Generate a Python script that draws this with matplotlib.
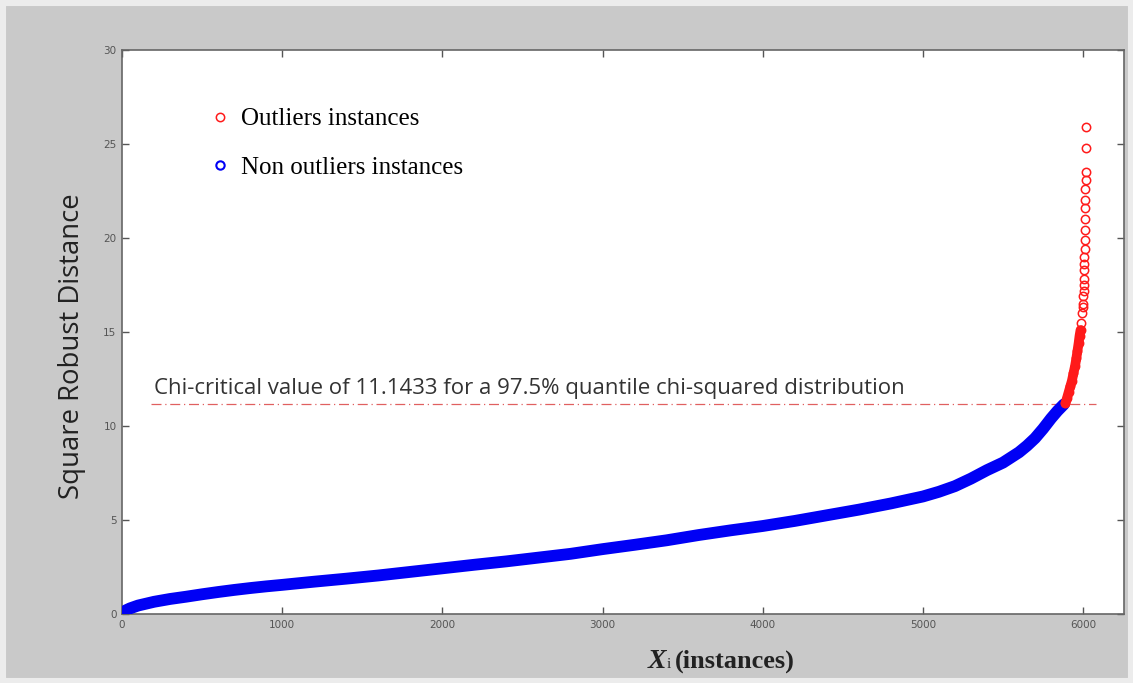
import matplotlib
matplotlib.use("Agg")
import matplotlib.pyplot as plt
from matplotlib.lines import Line2D
from matplotlib.patches import Rectangle

# ---- data ----
inlier_x = [0, 25, 50, 100, 150, 200, 300, 400, 500, 600, 700, 800, 900, 1000,
            1200, 1400, 1600, 1800, 2000, 2200, 2400, 2600, 2800, 3000, 3200,
            3400, 3600, 3800, 4000, 4200, 4400, 4600, 4800, 5000, 5100, 5200,
            5300, 5400, 5500, 5600, 5650, 5700, 5750, 5800, 5840, 5880]
inlier_d = [0.05, 0.2, 0.3, 0.45, 0.55, 0.65, 0.8, 0.92, 1.05, 1.17, 1.28, 1.38,
            1.47, 1.55, 1.72, 1.88, 2.05, 2.24, 2.43, 2.62, 2.8, 3.0, 3.2, 3.45,
            3.68, 3.92, 4.2, 4.45, 4.68, 4.95, 5.25, 5.55, 5.88, 6.25, 6.5, 6.8,
            7.2, 7.65, 8.05, 8.6, 8.95, 9.35, 9.85, 10.4, 10.8, 11.15]

outlier_dense_x = [5890, 5900, 5910, 5920, 5930, 5940, 5950, 5958, 5965, 5972,
                   5978, 5984, 5990, 5995]
outlier_dense_d = [11.2, 11.5, 11.8, 12.1, 12.4, 12.8, 13.2, 13.6, 14.0, 14.4,
                   14.8, 15.1, 15.5, 16.0]
outlier_top_x = [6000, 6001, 6002, 6003, 6004, 6005, 6006, 6007, 6008, 6009,
                 6010, 6011, 6012, 6013, 6014, 6015, 6016, 6017, 6018, 6019]
outlier_top_d = [16.3, 16.5, 16.9, 17.2, 17.5, 17.8, 18.3, 18.6, 19.0, 19.4,
                 19.9, 20.4, 21.0, 21.6, 22.0, 22.6, 23.1, 23.5, 24.8, 25.9]

chi_critical = 11.1433
x_ticks = [0, 1000, 2000, 3000, 4000, 5000, 6000]
y_ticks = [0, 5, 10, 15, 20, 25, 30]

# ---- figure ----
fig = plt.figure(figsize=(11.33, 6.83), dpi=100, facecolor="#c9c9c9")
fig.patches.append(Rectangle((0, 0), 1, 1, transform=fig.transFigure,
                             fill=False, edgecolor="#ececec", linewidth=8,
                             zorder=-1))
ax = fig.add_axes([0.1077, 0.101, 0.8843, 0.826])
ax.set_facecolor("white")

blue = "#0000f5"
red = "#ff1a1a"

# inliers: thick band of overlapping circles
ax.plot(inlier_x, inlier_d, color=blue, lw=8.5, solid_capstyle="round",
        solid_joinstyle="round", zorder=3)

# outliers
ax.plot(outlier_dense_x[:12], outlier_dense_d[:12], color=red, lw=7,
        solid_capstyle="round", zorder=3)
ax.plot(outlier_dense_x + outlier_top_x, outlier_dense_d + outlier_top_d, "o",
        mfc="none", mec=red, ms=6, mew=1.1, ls="none", zorder=4)

# chi-critical line
ax.plot([180, 6080], [chi_critical, chi_critical], color="#e06060", lw=0.9,
        ls=(0, (8, 3, 1, 3)), zorder=2)
ax.text(200, 12.0, "Chi-critical value of 11.1433 for a 97.5% quantile "
        "chi-squared distribution", family="Open Sans", fontsize=16,
        color="#333333", va="center", ha="left")

ax.set_xlim(0, 6255)
ax.set_ylim(0, 30)
ax.set_xticks(x_ticks)
ax.set_yticks(y_ticks)
ax.tick_params(direction="in", top=True, right=True, length=5, width=1,
               color="#555555", labelsize=7.5, labelcolor="#555555", pad=4)
for s in ax.spines.values():
    s.set_color("#666666")
    s.set_linewidth(1.2)

ax.set_ylabel("Square Robust Distance", family="Open Sans", fontsize=19.8,
              color="#222222")
ax.yaxis.set_label_coords(-0.036, 0.475)

fig.text(648 / 1133, 1 - 668 / 683, "X", family="Liberation Serif",
         fontsize=20, style="italic", weight="bold", color="#222222",
         ha="left", va="baseline")
fig.text(667 / 1133, 1 - 668 / 683, "i", family="Liberation Serif",
         fontsize=11, color="#222222", ha="left", va="baseline")
fig.text(675 / 1133, 1 - 668 / 683, "(instances)", family="Liberation Serif",
         fontsize=19, weight="bold", color="#222222", ha="left",
         va="baseline")

handles = [Line2D([], [], marker="o", ls="none", mfc="none", mec=red, ms=6,
                  mew=1.1),
           Line2D([], [], marker="o", ls="none", mfc="none", mec=blue, ms=6,
                  mew=1.5)]
ax.legend(handles, ["Outliers instances", "Non outliers instances"],
          loc="upper left", bbox_to_anchor=(0.078, 0.915), frameon=False,
          prop={"family": "Liberation Serif", "size": 18}, handlelength=0.8,
          handletextpad=0.45, labelspacing=1.05, borderaxespad=0)

fig.savefig("out.png", dpi=100, facecolor=fig.get_facecolor())
